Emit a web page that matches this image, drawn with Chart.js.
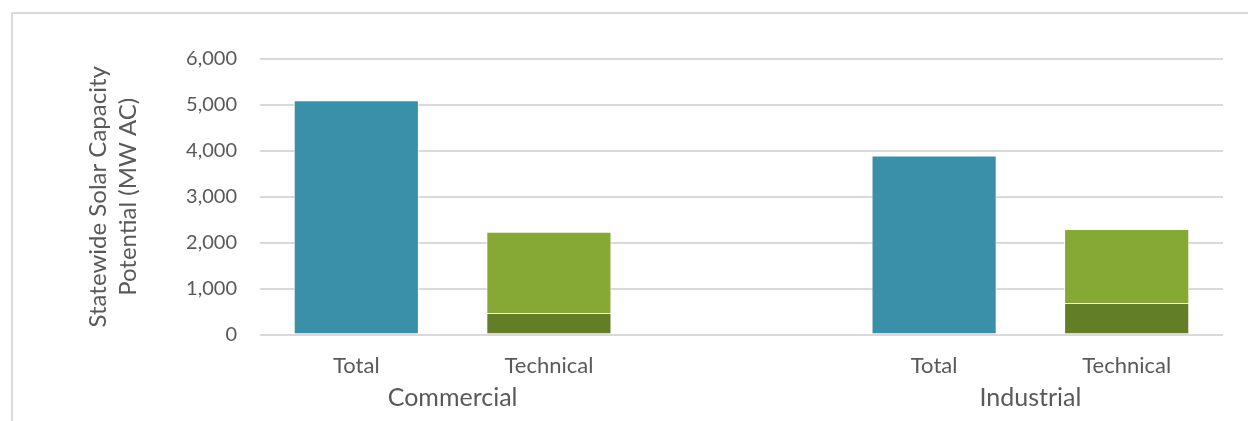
<!DOCTYPE html>
<html>
<head>
<meta charset="utf-8">
<script src="https://cdn.jsdelivr.net/npm/chart.js@4.4.0/dist/chart.umd.min.js"></script>
<style>
  html, body { margin: 0; padding: 0; background: #fff; }
  #wrap { position: relative; width: 1248px; height: 421px; overflow: hidden; }
  #frame { position: absolute; left: 11px; top: 12px; width: 1300px; height: 500px;
           border-top: 2px solid #d9d9d9; border-left: 2px solid #d9d9d9; }
  #chart { position: absolute; left: 0; top: 0; }
</style>
</head>
<body>
<div id="wrap">
  <div id="frame"></div>
  <canvas id="chart" width="1248" height="421"></canvas>
</div>
<script>
// --- DATA ---
const categories = ['Total', 'Technical', '', 'Total', 'Technical'];
const groups = [
    { label: 'Commercial', from: 0, to: 1 },
    { label: 'Industrial', from: 3, to: 4 }
];
const totalPotential   = [5100, null, null, 3900, null];
const technicalBase    = [null, 470, null, null, 690];
const technicalUpper   = [null, 1770, null, null, 1610];
const yTicks = [0, 1000, 2000, 3000, 4000, 5000, 6000];
const yTitle = ['Statewide Solar Capacity', 'Potential (MW AC)'];

// --- STYLE ---
const TEXT = '#595959';
const GRID = '#d9d9d9';
const FONT = 'Lato, "Open Sans", sans-serif';

// group labels under the category labels
const groupLabels = {
    id: 'groupLabels',
    afterDraw(chart) {
        const ctx = chart.ctx;
        const x = chart.scales.x;
        ctx.save();
        ctx.fillStyle = TEXT;
        ctx.font = '25px ' + FONT;
        ctx.textAlign = 'center';
        ctx.textBaseline = 'middle';
        groups.forEach(g => {
            const cx = (x.getPixelForValue(g.from) + x.getPixelForValue(g.to)) / 2;
            ctx.fillText(g.label, cx, chart.chartArea.bottom + 63);
        });
        ctx.restore();
    }
};

const barStyle = (data, color) => ({
    data: data,
    backgroundColor: color,
    borderColor: '#ffffff',
    borderWidth: 1,
    borderSkipped: 'start',
    categoryPercentage: 1,
    barPercentage: 0.65
});

new Chart(document.getElementById('chart'), {
    type: 'bar',
    data: {
        labels: categories,
        datasets: [
            barStyle(totalPotential, '#3a90a8'),
            barStyle(technicalBase, '#627f27'),
            barStyle(technicalUpper, '#86a935')
        ]
    },
    options: {
        responsive: false,
        animation: false,
        layout: { padding: { left: 83, right: 25, top: 59, bottom: 32 } },
        plugins: { legend: { display: false }, tooltip: { enabled: false } },
        scales: {
            x: {
                stacked: true,
                grid: { display: false },
                border: { display: false },
                ticks: { color: TEXT, font: { family: FONT, size: 22 }, padding: 10 }
            },
            y: {
                stacked: true,
                min: 0,
                max: 6000,
                afterBuildTicks: s => { s.ticks = yTicks.map(v => ({ value: v })); },
                afterFit: s => { s.width = 177; },
                grid: { color: GRID, lineWidth: 2, drawTicks: false },
                border: { display: false },
                ticks: {
                    color: TEXT,
                    font: { family: FONT, size: 20 },
                    padding: 23,
                    callback: v => v.toLocaleString('en-US')
                },
                title: {
                    display: true,
                    text: yTitle,
                    color: TEXT,
                    font: { family: FONT, size: 24, lineHeight: 1.25 },
                    padding: { top: 0, bottom: 0 }
                }
            }
        }
    },
    plugins: [groupLabels]
});
</script>
</body>
</html>
